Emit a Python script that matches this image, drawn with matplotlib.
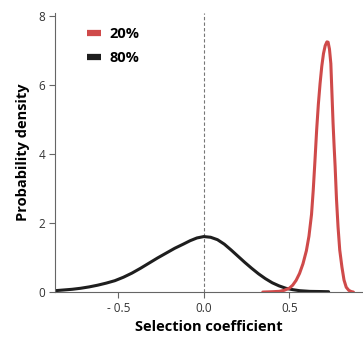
import matplotlib
matplotlib.use('Agg')
import matplotlib.pyplot as plt

# density curves (selection coefficient vs probability density)
black_x = [-0.87, -0.82, -0.77, -0.72, -0.67, -0.62, -0.57, -0.52, -0.47, -0.42, -0.37, -0.32,
           -0.27, -0.22, -0.17, -0.12, -0.08, -0.04, 0.0, 0.04, 0.08, 0.12, 0.16, 0.20, 0.24,
           0.28, 0.32, 0.36, 0.40, 0.44, 0.48, 0.52, 0.56, 0.62, 0.68, 0.73]
black_y = [0.04, 0.06, 0.08, 0.11, 0.15, 0.20, 0.26, 0.33, 0.43, 0.55, 0.69, 0.84,
           0.99, 1.13, 1.27, 1.39, 1.49, 1.57, 1.61, 1.59, 1.52, 1.39, 1.22, 1.04, 0.86,
           0.69, 0.53, 0.39, 0.27, 0.18, 0.11, 0.07, 0.04, 0.02, 0.015, 0.01]

red_x = [0.345, 0.40, 0.44, 0.47, 0.50, 0.52, 0.54, 0.56, 0.58, 0.60, 0.615, 0.63, 0.64,
         0.65, 0.66, 0.67, 0.68, 0.69, 0.70, 0.71, 0.72, 0.727, 0.735, 0.743, 0.75, 0.756,
         0.762, 0.768, 0.776, 0.785, 0.795, 0.808, 0.82, 0.833, 0.848, 0.862, 0.875]
red_y = [0.0, 0.01, 0.02, 0.05, 0.11, 0.20, 0.34, 0.54, 0.82, 1.20, 1.62, 2.25, 2.95,
         3.80, 4.70, 5.45, 6.05, 6.55, 6.92, 7.15, 7.26, 7.25, 7.05, 6.63, 5.70, 4.90,
         4.25, 3.65, 2.70, 1.90, 1.22, 0.72, 0.35, 0.14, 0.05, 0.015, 0.0]

labels = ['20%', '80%']
xticks = [-0.5, 0.0, 0.5]
xticklabels = ['- 0.5', '0.0', '0.5']
yticks = [0, 2, 4, 6, 8]

RED = '#cf4a4a'
BLACK = '#1e1e1e'
AXIS = '#666666'

plt.rcParams['font.family'] = ['Open Sans', 'DejaVu Sans']

fig = plt.figure(figsize=(3.63, 3.40), dpi=100)
ax = fig.add_axes([0.1515, 0.141, 0.848, 0.821])

ax.axvline(0, color='#777777', lw=0.8, ls=(0, (3, 2)), zorder=1)
ax.plot(black_x, black_y, color=BLACK, lw=2.2, label=labels[1], zorder=2,
        solid_capstyle='round', solid_joinstyle='round')
ax.plot(red_x, red_y, color=RED, lw=2.2, label=labels[0], zorder=3,
        solid_capstyle='round', solid_joinstyle='round')

ax.set_xlim(-0.87, 0.93)
ax.set_ylim(0, 8.1)
ax.set_xticks(xticks)
ax.set_xticklabels(xticklabels)
ax.set_yticks(yticks)

for s in ['top', 'right']:
    ax.spines[s].set_visible(False)
for s in ['left', 'bottom']:
    ax.spines[s].set_color(AXIS)
    ax.spines[s].set_linewidth(0.8)
ax.tick_params(direction='out', length=4, width=0.8, color=AXIS,
               labelsize=8.5, labelcolor='#333333', pad=3)

ax.set_xlabel('Selection coefficient', fontsize=10.5, fontweight='bold', labelpad=4)
ax.set_ylabel('Probability density', fontsize=10.5, fontweight='bold', labelpad=6)

handles, labs = ax.get_legend_handles_labels()
leg = ax.legend(handles[::-1], labs[::-1], loc='upper left', bbox_to_anchor=(0.06, 0.995),
                frameon=False, handlelength=1.0, handletextpad=0.55, labelspacing=0.65,
                prop={'weight': 'bold', 'size': 10.5})
for line in leg.get_lines():
    line.set_linewidth(4.5)
    line.set_solid_capstyle('butt')

fig.savefig('out.png', dpi=100)
